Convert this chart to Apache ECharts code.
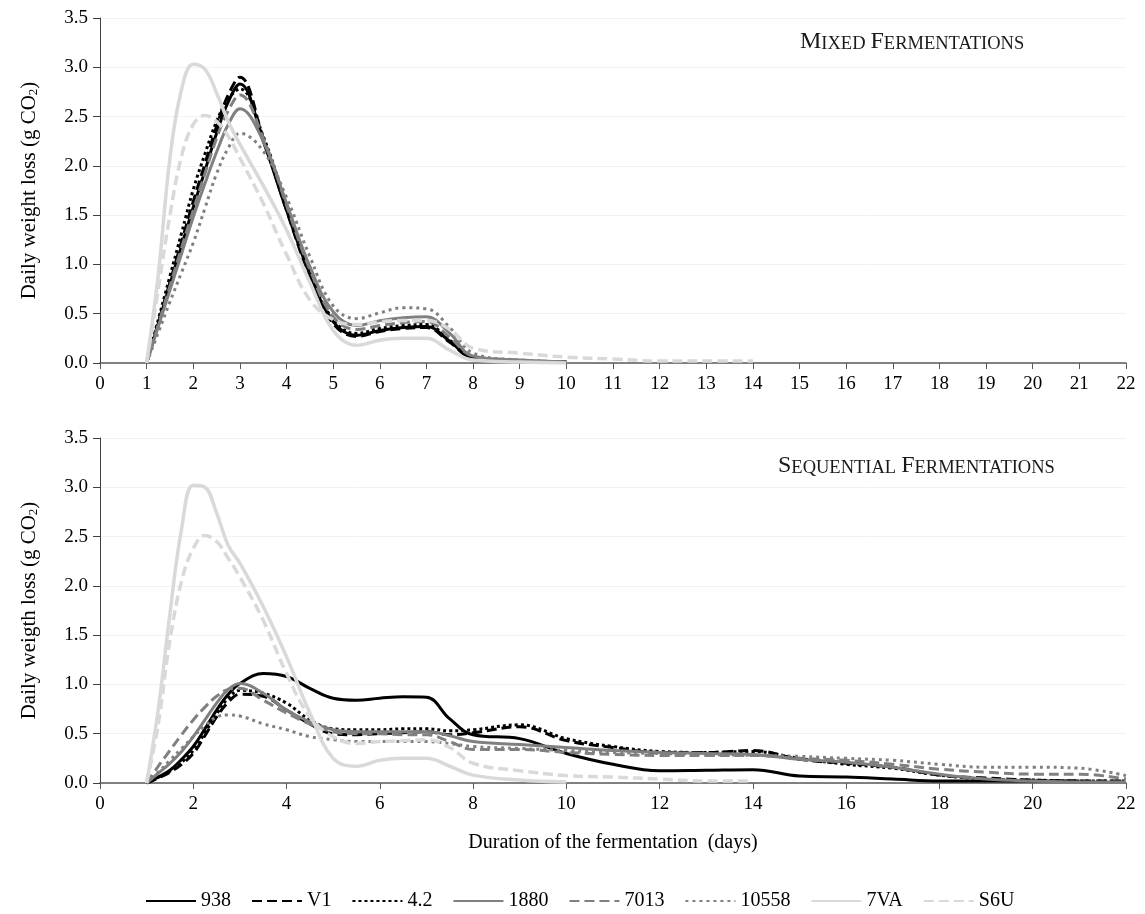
<!DOCTYPE html>
<html>
<head>
<meta charset="utf-8">
<script src="https://cdn.jsdelivr.net/npm/echarts@6/dist/echarts.min.js"></script>
<style>
    html, body { margin: 0; padding: 0; background: #fff; }
    #main { width: 1145px; height: 914px; }
</style>
</head>
<body>
<div id="main"></div>
<script>
    // strains (legend order)
    var strains = ['938', 'V1', '4.2', '1880', '7013', '10558', '7VA', 'S6U'];

    // mixed fermentations (quarter days around the peak, then half days, then days)
    var daysMixed = [1, 1.25, 1.5, 1.75, 2, 2.25, 2.5, 2.75, 3, 3.5, 4, 4.5, 5, 5.5, 6, 6.5, 7, 7.5, 8, 9, 10, 11, 12, 13, 14];
    var mixed938   = [0, 0.40, 0.80, 1.19, 1.58, 1.95, 2.33, 2.65, 2.83, 2.25, 1.55, 0.90, 0.42, 0.28, 0.33, 0.36, 0.37, 0.22, 0.05, 0.02, 0.01];
    var mixedV1    = [0, 0.41, 0.82, 1.23, 1.64, 2.02, 2.40, 2.72, 2.90, 2.28, 1.55, 0.88, 0.40, 0.27, 0.32, 0.35, 0.36, 0.21, 0.05, 0.02, 0.01];
    var mixed42    = [0, 0.44, 0.88, 1.32, 1.76, 2.12, 2.45, 2.68, 2.78, 2.30, 1.60, 0.92, 0.44, 0.30, 0.35, 0.38, 0.39, 0.23, 0.06, 0.02, 0.01];
    var mixed1880  = [0, 0.37, 0.74, 1.11, 1.48, 1.82, 2.14, 2.42, 2.58, 2.25, 1.62, 0.98, 0.52, 0.38, 0.43, 0.46, 0.47, 0.30, 0.07, 0.03, 0.01];
    var mixed7013  = [0, 0.39, 0.78, 1.17, 1.55, 1.92, 2.28, 2.56, 2.72, 2.28, 1.60, 0.95, 0.47, 0.34, 0.38, 0.41, 0.42, 0.26, 0.07, 0.03, 0.01];
    var mixed10558 = [0, 0.31, 0.62, 0.92, 1.22, 1.57, 1.92, 2.18, 2.33, 2.15, 1.68, 1.08, 0.58, 0.45, 0.51, 0.56, 0.55, 0.36, 0.10, 0.03, 0.01];
    var mixed7VA   = [0, 0.90, 2.08, 2.78, 3.03, 2.98, 2.74, 2.45, 2.22, 1.80, 1.35, 0.82, 0.33, 0.18, 0.23, 0.25, 0.25, 0.13, 0.03, 0.01, 0.0];
    var mixedS6U   = [0, 0.75, 1.50, 2.10, 2.42, 2.51, 2.45, 2.30, 2.08, 1.62, 1.10, 0.64, 0.44, 0.39, 0.42, 0.43, 0.43, 0.34, 0.15, 0.10, 0.06, 0.04, 0.02, 0.02, 0.02];

    // sequential fermentations
    var daysSeq = [1, 1.25, 1.5, 1.75, 2, 2.25, 2.5, 2.75, 3, 3.5, 4, 4.5, 5, 5.5, 6, 6.5, 7, 7.5, 8, 9, 10, 11, 12, 13, 14, 15, 16, 17, 18, 19, 20, 21, 22];
    var seq938   = [0, 0.06, 0.13, 0.24, 0.37, 0.55, 0.74, 0.90, 1.01, 1.11, 1.08, 0.96, 0.86, 0.84, 0.86, 0.875, 0.87, 0.65, 0.49, 0.45, 0.30, 0.19, 0.125, 0.13, 0.135, 0.07, 0.06, 0.04, 0.02, 0.02, 0.02, 0.02];
    var seqV1    = [0, 0.05, 0.11, 0.19, 0.30, 0.48, 0.67, 0.82, 0.90, 0.88, 0.74, 0.60, 0.50, 0.49, 0.50, 0.51, 0.52, 0.49, 0.51, 0.57, 0.43, 0.36, 0.31, 0.31, 0.33, 0.24, 0.20, 0.16, 0.08, 0.05, 0.03, 0.02, 0.02];
    var seq42    = [0, 0.06, 0.12, 0.21, 0.33, 0.51, 0.70, 0.86, 0.94, 0.91, 0.81, 0.64, 0.55, 0.54, 0.54, 0.55, 0.55, 0.53, 0.54, 0.59, 0.45, 0.37, 0.32, 0.31, 0.32, 0.25, 0.19, 0.15, 0.08, 0.04, 0.03, 0.02, 0.02];
    var seq1880  = [0, 0.10, 0.20, 0.32, 0.47, 0.64, 0.81, 0.95, 1.01, 0.91, 0.74, 0.62, 0.54, 0.52, 0.52, 0.52, 0.52, 0.48, 0.42, 0.39, 0.36, 0.33, 0.31, 0.30, 0.29, 0.24, 0.21, 0.16, 0.09, 0.04, 0.02, 0.01, 0.01];
    var seq7013  = [0, 0.17, 0.33, 0.49, 0.64, 0.77, 0.88, 0.95, 0.96, 0.84, 0.71, 0.60, 0.52, 0.50, 0.50, 0.49, 0.49, 0.42, 0.34, 0.34, 0.31, 0.29, 0.28, 0.28, 0.28, 0.25, 0.23, 0.19, 0.14, 0.11, 0.09, 0.09, 0.04];
    var seq10558 = [0, 0.11, 0.23, 0.35, 0.47, 0.58, 0.67, 0.69, 0.68, 0.60, 0.54, 0.47, 0.44, 0.42, 0.42, 0.42, 0.42, 0.40, 0.37, 0.35, 0.33, 0.31, 0.30, 0.29, 0.28, 0.27, 0.25, 0.23, 0.19, 0.16, 0.16, 0.15, 0.075];
    var seq7VA   = [0, 0.75, 1.72, 2.58, 3.02, 3.00, 2.74, 2.41, 2.23, 1.79, 1.28, 0.71, 0.25, 0.17, 0.23, 0.25, 0.25, 0.17, 0.08, 0.03, 0.01];
    var seqS6U   = [0, 0.60, 1.45, 2.05, 2.38, 2.51, 2.45, 2.28, 2.09, 1.65, 1.11, 0.67, 0.47, 0.40, 0.42, 0.43, 0.44, 0.36, 0.20, 0.125, 0.075, 0.06, 0.04, 0.02, 0.02];

    var mixedData = [mixed938, mixedV1, mixed42, mixed1880, mixed7013, mixed10558, mixed7VA, mixedS6U];
    var seqData = [seq938, seqV1, seq42, seq1880, seq7013, seq10558, seq7VA, seqS6U];

    var serif = '"Liberation Serif", "Times New Roman", serif';
    var lineStyles = [
        {color: '#000000', type: 'solid', width: 3},
        {color: '#000000', type: [10, 5], width: 3},
        {color: '#000000', type: [3, 3], width: 3},
        {color: '#808080', type: 'solid', width: 3},
        {color: '#808080', type: [10, 5], width: 3},
        {color: '#808080', type: [3, 4], width: 3},
        {color: '#d9d9d9', type: 'solid', width: 3.5},
        {color: '#d9d9d9', type: [10, 5], width: 3.5}
    ];

    function pairs(days, vals) {
        var out = [];
        for (var i = 0; i < vals.length; i++) {
            if (vals[i] != null) out.push([days[i], vals[i]]);
        }
        return out;
    }

    var series = [];
    for (var k = 0; k < strains.length; k++) {
        series.push({
            name: strains[k], type: 'line', xAxisIndex: 0, yAxisIndex: 0,
            smooth: 0.4, symbol: 'none', lineStyle: lineStyles[k], itemStyle: {color: lineStyles[k].color},
            data: pairs(daysMixed, mixedData[k])
        });
        series.push({
            name: strains[k], type: 'line', xAxisIndex: 1, yAxisIndex: 1,
            smooth: 0.4, symbol: 'none', lineStyle: lineStyles[k], itemStyle: {color: lineStyles[k].color},
            data: pairs(daysSeq, seqData[k])
        });
    }

    function yAxis(idx, name) {
        return {
            type: 'value', gridIndex: idx, min: 0, max: 3.5, interval: 0.5,
            name: '{a|' + name + ' (g CO}{s|2}{a|)}',
            nameLocation: 'middle', nameGap: 60,
            nameTextStyle: {
                rich: {
                    a: {fontFamily: serif, fontSize: 21, color: '#000', lineHeight: 24, verticalAlign: 'bottom'},
                    s: {fontFamily: serif, fontSize: 13, color: '#000', lineHeight: 18, verticalAlign: 'bottom'}
                }
            },
            axisLine: {show: true, lineStyle: {color: '#404040', width: 1}},
            axisTick: {show: true, length: 7, lineStyle: {color: '#404040'}},
            axisLabel: {fontFamily: serif, fontSize: 19, color: '#000', margin: 12,
                formatter: function (v) { return v.toFixed(1); }},
            splitLine: {show: true, lineStyle: {color: '#f2f2f2', width: 1}}
        };
    }

    function xAxis(idx, step) {
        return {
            type: 'value', gridIndex: idx, min: 0, max: 22, interval: step,
            axisLine: {show: true, onZero: true, lineStyle: {color: '#595959', width: 1.5}},
            axisTick: {show: true, length: 6, lineStyle: {color: '#595959'}},
            axisLabel: {fontFamily: serif, fontSize: 19, color: '#000', margin: 12},
            splitLine: {show: false}
        };
    }

    var xBottom = xAxis(1, 2);
    xBottom.name = 'Duration of the fermentation  (days)';
    xBottom.nameLocation = 'middle';
    xBottom.nameGap = 50;
    xBottom.nameTextStyle = {fontFamily: serif, fontSize: 20, color: '#000'};

    var capsRich = {
        c: {fontFamily: serif, fontSize: 24, fontWeight: 'normal', color: '#1a1a1a', lineHeight: 24, verticalAlign: 'bottom'},
        s: {fontFamily: serif, fontSize: 18.5, fontWeight: 'normal', color: '#1a1a1a', lineHeight: 24, verticalAlign: 'bottom'}
    };

    var myChart = echarts.init(document.getElementById('main'), null, {renderer: 'canvas'});
    var option = {
        backgroundColor: '#ffffff',
        animation: false,
        title: [
            {text: '{c|M}{s|IXED} {c|F}{s|ERMENTATIONS}', left: 800, top: 30, padding: 0,
                textStyle: {fontWeight: 'normal', rich: capsRich}},
            {text: '{c|S}{s|EQUENTIAL} {c|F}{s|ERMENTATIONS}', left: 778, top: 454, padding: 0,
                textStyle: {fontWeight: 'normal', rich: capsRich}}
        ],
        grid: [
            {left: 100, right: 19, top: 18, height: 345},
            {left: 100, right: 19, top: 438, height: 345}
        ],
        xAxis: [xAxis(0, 1), xBottom],
        yAxis: [yAxis(0, 'Daily weight loss'), yAxis(1, 'Daily weigth loss')],
        legend: {
            data: strains, left: 140, top: 886, itemWidth: 50, itemHeight: 14, itemGap: 20,
            itemStyle: {opacity: 0},
            textStyle: {fontFamily: serif, fontSize: 20, color: '#000'}
        },
        series: series
    };
    myChart.setOption(option);
</script>
</body>
</html>
